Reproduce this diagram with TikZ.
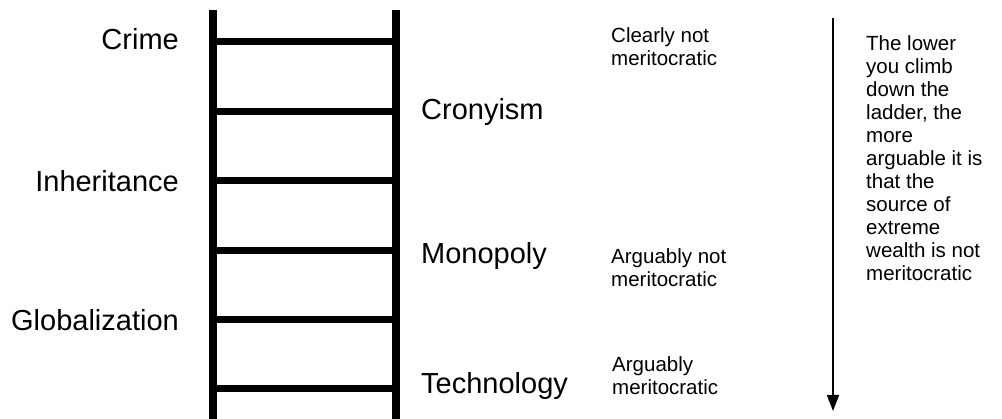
\documentclass[tikz,border=0pt]{standalone}
\usepackage{fontspec}
\setmainfont{Liberation Sans}
\usetikzlibrary{arrows.meta}
\begin{document}
\begin{tikzpicture}[x=1pt,y=-1pt,
  rail/.style={line width=8pt},
  rung/.style={line width=7pt},
  biglabel/.style={inner sep=0pt,font=\fontsize{29}{33}\selectfont},
  smalllabel/.style={inner sep=0pt,align=left,font=\fontsize{20.5}{23}\selectfont},
  downarrow/.style={line width=1.6pt,-{Triangle[length=16pt,width=12pt]}}]
  \useasboundingbox (0,0) rectangle (1002,419);
  % ladder rails
  \coordinate (lt) at (213,10);
  \coordinate (lb) at (213,419);
  \coordinate (rt) at (395.5,10);
  \coordinate (rb) at (395.5,419);
  \draw[rail] (lt) -- (lb);
  \draw[rail] (rt) -- (rb);
  % rungs
  \foreach \i/\y in {1/42,2/111.4,3/180.8,4/250.2,5/319.6,6/389}{
    \coordinate (l\i) at (213,\y);
    \coordinate (r\i) at (395.5,\y);
    \draw[rung] (l\i) -- (r\i);
  }
  % labels left of the ladder
  \node[biglabel,anchor=base east] (crime) at (179,50) {Crime};
  \node[biglabel,anchor=base east] (inherit) at (179,192) {Inheritance};
  \node[biglabel,anchor=base east] (glob) at (179,331) {Globalization};
  % labels right of the ladder
  \node[biglabel,anchor=base west] (crony) at (421,120) {Cronyism};
  \node[biglabel,anchor=base west] (mono) at (421,264) {Monopoly};
  \node[biglabel,anchor=base west] (tech) at (421,394) {Technology};
  % degree of merit (anchored at the baseline of the last line)
  \node[smalllabel,anchor=base west] (clearly) at (611,66) {Clearly not\\meritocratic};
  \node[smalllabel,anchor=base west] (argnot) at (611,287) {Arguably not\\meritocratic};
  \node[smalllabel,anchor=base west] (arg) at (612,395) {Arguably\\meritocratic};
  % direction arrow and its explanation
  \coordinate (atop) at (833,18);
  \coordinate (abot) at (833,411);
  \draw[downarrow] (atop) -- (abot);
  \node[smalllabel,anchor=base west] (expl) at (866,281) {The lower\\you climb\\down the\\ladder, the\\more\\arguable it is\\that the\\source of\\extreme\\wealth is not\\meritocratic};
\end{tikzpicture}
\end{document}
